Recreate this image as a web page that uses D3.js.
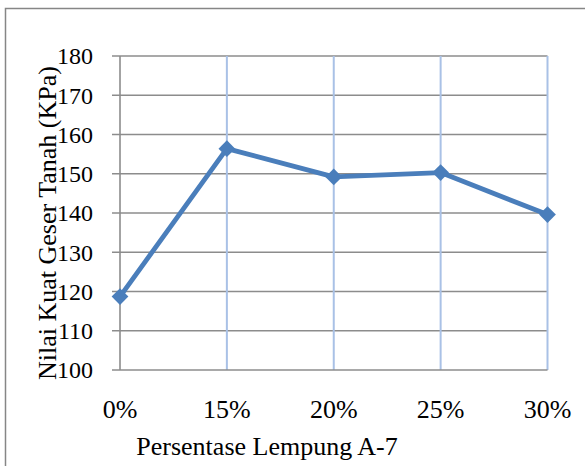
<!DOCTYPE html>
<html><head><meta charset="utf-8">
<script src="https://cdn.jsdelivr.net/npm/d3@7"></script>
<style>body{margin:0;background:#fff}svg{display:block}</style>
</head><body>
<svg id="c" width="585" height="466"></svg>
<script>
const categories = ["0%", "15%", "20%", "25%", "30%"];
const values = [118.7, 156.4, 149.2, 150.3, 139.6];
const yTicks = [100, 110, 120, 130, 140, 150, 160, 170, 180];
const xTitle = "Persentase Lempung A-7";
const yTitle = "Nilai Kuat Geser Tanah (KPa)";

const svg = d3.select("#c");
const font = "'Liberation Serif','Times New Roman',serif";
const L = 120, R = 547.5, T = 56, B = 370;

svg.append("rect").attr("x", 5.5).attr("y", 8.5).attr("width", 600).attr("height", 480)
  .attr("fill", "#fff").attr("stroke", "#868686").attr("stroke-width", 1.5);

const x = d3.scalePoint().domain(categories).range([L, R]).padding(0);
const y = d3.scaleLinear().domain([100, 180]).range([B, T]);

// horizontal gridlines (with outer ticks)
svg.append("g").selectAll("line").data(yTicks.filter(d => d !== 100)).join("line")
  .attr("x1", L - 8).attr("x2", R).attr("y1", d => y(d)).attr("y2", d => y(d))
  .attr("stroke", "#8c8c8c").attr("stroke-width", 1.6);

// vertical gridlines
svg.append("g").selectAll("line").data(categories.slice(1)).join("line")
  .attr("x1", d => x(d)).attr("x2", d => x(d)).attr("y1", T).attr("y2", B)
  .attr("stroke", "#a9c1e6").attr("stroke-width", 2);

// axes lines
svg.append("line").attr("x1", L).attr("x2", L).attr("y1", T).attr("y2", B)
  .attr("stroke", "#8c8c8c").attr("stroke-width", 1.6);
svg.append("line").attr("x1", L - 8).attr("x2", R).attr("y1", B).attr("y2", B)
  .attr("stroke", "#8c8c8c").attr("stroke-width", 1.6);

// y tick labels
svg.append("g").selectAll("text").data(yTicks).join("text")
  .attr("x", 93).attr("y", d => y(d)).attr("dy", "0.35em")
  .attr("text-anchor", "end").attr("font-family", font).attr("font-size", 24)
  .attr("fill", "#000").text(d => d);

// x tick labels
svg.append("g").selectAll("text").data(categories).join("text")
  .attr("x", d => x(d)).attr("y", 418)
  .attr("text-anchor", "middle").attr("font-family", font).attr("font-size", 26)
  .attr("fill", "#000").text(d => d);

// titles
svg.append("text").attr("x", 267).attr("y", 455).attr("text-anchor", "middle")
  .attr("font-family", font).attr("font-size", 26).attr("fill", "#000").text(xTitle);
svg.append("text").attr("transform", "translate(56,223) rotate(-90)").attr("text-anchor", "middle")
  .attr("font-family", font).attr("font-size", 26).attr("fill", "#000").text(yTitle);

// line
const line = d3.line().x((d, i) => x(categories[i])).y(d => y(d));
svg.append("path").datum(values).attr("d", line).attr("fill", "none")
  .attr("stroke", "#4a7ebb").attr("stroke-width", 4.8).attr("stroke-linejoin", "round");

// markers
svg.append("g").selectAll("path").data(values).join("path")
  .attr("d", d3.symbol().type(d3.symbolSquare).size(140))
  .attr("transform", (d, i) => `translate(${x(categories[i])},${y(d)}) rotate(45)`)
  .attr("fill", "#4a7ebb");
</script>
</body></html>
